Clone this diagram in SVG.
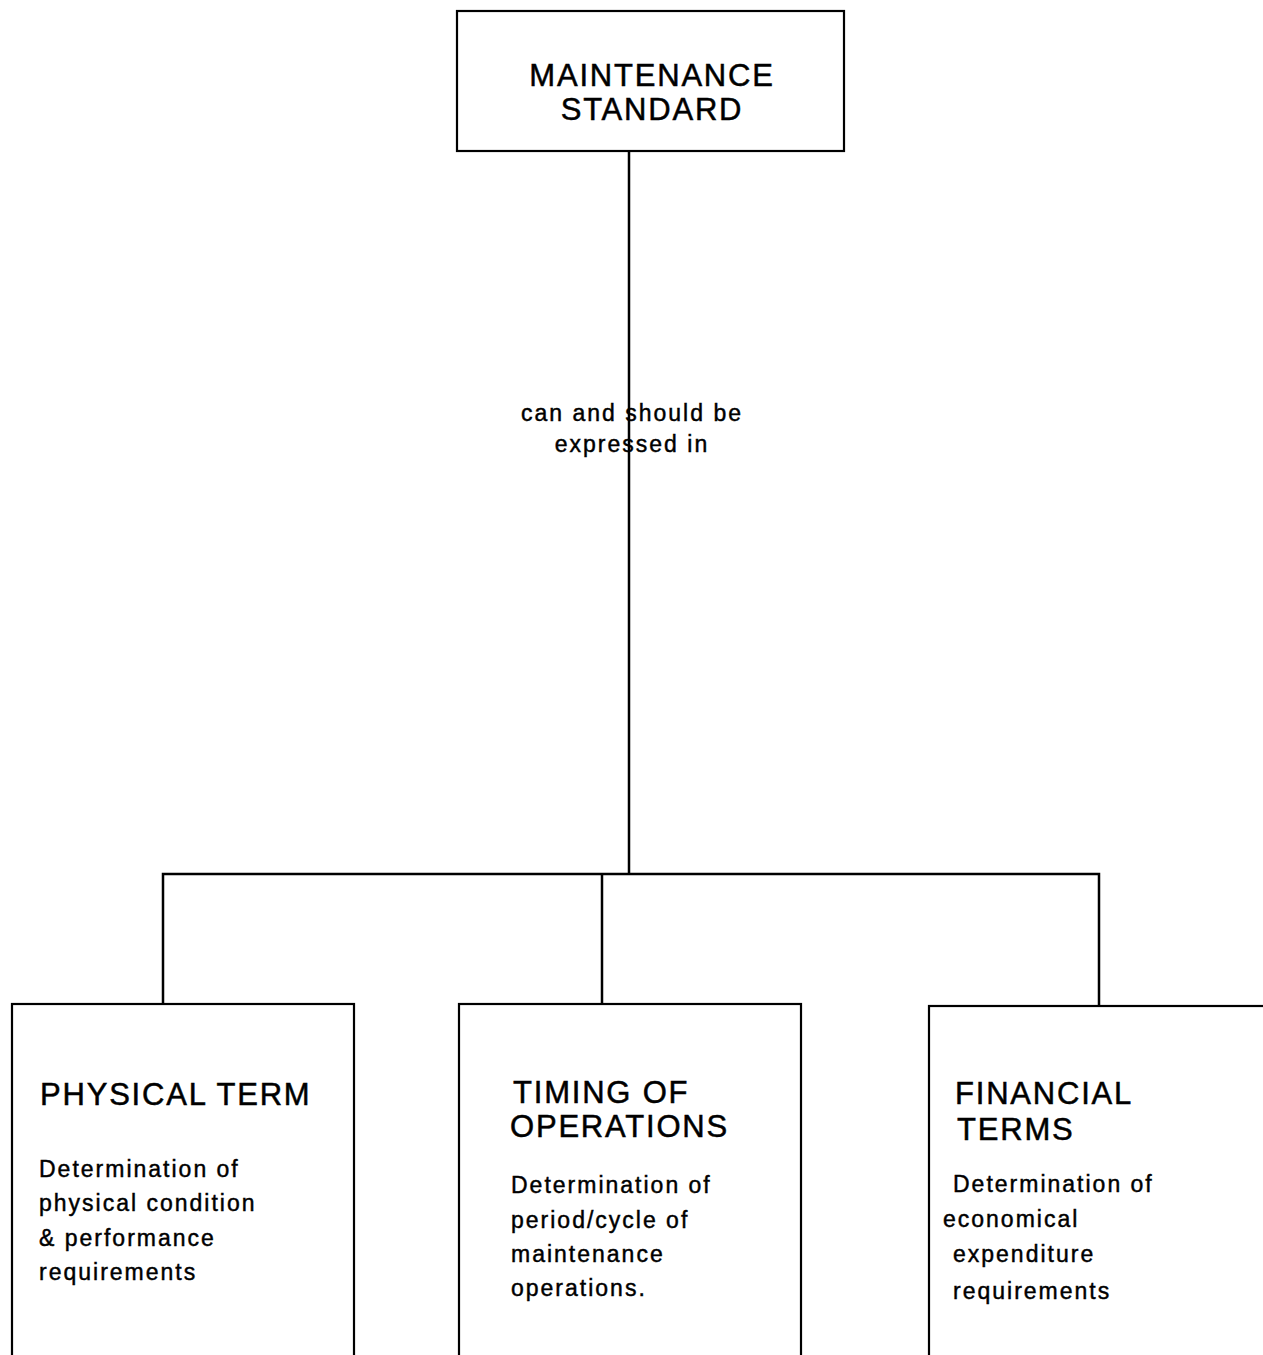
<svg xmlns="http://www.w3.org/2000/svg" width="1263" height="1355" viewBox="0 0 1263 1355">
<style>
.box{fill:#fff;stroke:#000;stroke-width:2.2}
.conn{fill:none;stroke:#000;stroke-width:2.5}
.title{font-family:"Liberation Sans",Arial,sans-serif;font-size:31px;letter-spacing:1.8px;fill:#000;stroke:#000;stroke-width:0.5}
.desc{font-family:"Liberation Sans",Arial,sans-serif;font-size:23px;letter-spacing:2px;fill:#000;stroke:#000;stroke-width:0.45}
</style>
<rect width="1263" height="1355" fill="#fff"/>
<g id="connectors">
<line class="conn" x1="629" y1="151" x2="629" y2="874"/>
<polyline class="conn" points="163,1004 163,874 1099,874 1099,1006"/>
<line class="conn" x1="602" y1="874" x2="602" y2="1004"/>
</g>
<g id="edge-label">
<text class="desc" x="632" y="421" text-anchor="middle">can and should be</text>
<text class="desc" x="632" y="452" text-anchor="middle">expressed in</text>
</g>
<g id="maintenance-standard">
<rect class="box" x="457" y="11" width="387" height="140"/>
<text class="title" x="652" y="86" text-anchor="middle">MAINTENANCE</text>
<text class="title" x="652" y="120" text-anchor="middle">STANDARD</text>
</g>
<g id="physical-term">
<rect class="box" x="12" y="1004" width="342" height="370"/>
<text class="title" x="40" y="1105">PHYSICAL TERM</text>
<text class="desc" x="39" y="1177">Determination of</text>
<text class="desc" x="39" y="1211">physical condition</text>
<text class="desc" x="39" y="1246">&amp; performance</text>
<text class="desc" x="39" y="1280">requirements</text>
</g>
<g id="timing-of-operations">
<rect class="box" x="459" y="1004" width="342" height="370"/>
<text class="title" x="513" y="1103">TIMING OF</text>
<text class="title" x="510" y="1137">OPERATIONS</text>
<text class="desc" x="511" y="1193">Determination of</text>
<text class="desc" x="511" y="1228">period/cycle of</text>
<text class="desc" x="511" y="1262">maintenance</text>
<text class="desc" x="511" y="1296">operations.</text>
</g>
<g id="financial-terms">
<rect class="box" x="929" y="1006" width="360" height="370"/>
<text class="title" x="955" y="1104">FINANCIAL</text>
<text class="title" x="957" y="1140">TERMS</text>
<text class="desc" x="953" y="1192">Determination of</text>
<text class="desc" x="943" y="1227">economical</text>
<text class="desc" x="953" y="1262">expenditure</text>
<text class="desc" x="953" y="1299">requirements</text>
</g>
</svg>
